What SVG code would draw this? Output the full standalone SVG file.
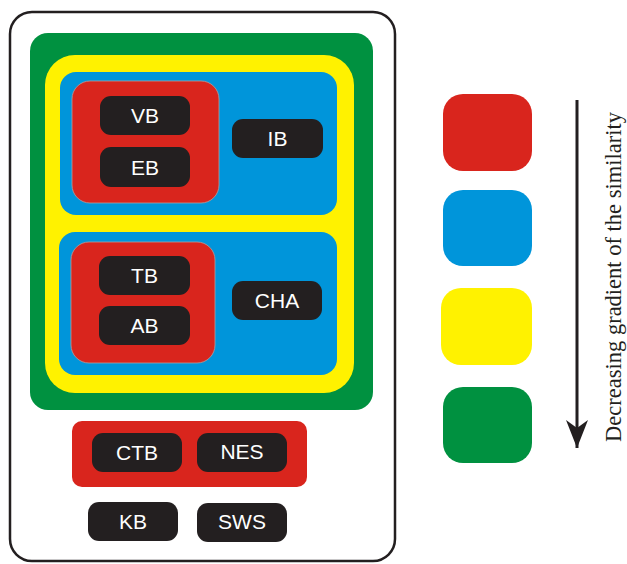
<svg xmlns="http://www.w3.org/2000/svg" width="627" height="564" viewBox="0 0 627 564">
<defs>
<style>
.red{fill:#d9251d}
.blue{fill:#0095da}
.yel{fill:#fff200}
.grn{fill:#009140}
.box{fill:#231f20}
.lbl{fill:#ffffff;font-family:"Liberation Sans",Arial,sans-serif;font-size:21px;text-anchor:middle;dominant-baseline:central}
.cap{fill:#231f20;font-family:"Liberation Serif","Times New Roman",serif;font-size:22.5px;text-anchor:middle;dominant-baseline:central}
</style>
<marker id="ah" markerWidth="28" markerHeight="22" refX="28" refY="11" orient="auto" markerUnits="userSpaceOnUse" viewBox="0 0 28 22">
<path d="M0,0 L28,11 L0,22 L8,11 Z" fill="#231f20"/>
</marker>
</defs>
<rect width="627" height="564" fill="#ffffff"/>
<g id="frame"><rect x="10" y="12" width="385" height="549" rx="22" fill="#ffffff" stroke="#231f20" stroke-width="2.5"/></g>
<g id="green-level"><rect class="grn" x="30" y="33" width="343" height="377" rx="18"/></g>
<g id="yellow-level"><rect class="yel" x="45" y="55" width="309" height="338" rx="30"/></g>
<g id="blue-top"><rect class="blue" x="60" y="72" width="277" height="143" rx="16"/></g>
<g id="red-top"><rect class="red" x="72" y="81" width="147" height="122" rx="18" stroke="#b0a0a0" stroke-width="0.8"/></g>
<g id="VB"><rect class="box" x="100" y="96" width="90" height="39" rx="11"/><text class="lbl" x="145" y="115.5">VB</text></g>
<g id="EB"><rect class="box" x="100" y="147" width="90" height="40" rx="11"/><text class="lbl" x="145" y="167">EB</text></g>
<g id="IB"><rect class="box" x="232" y="119" width="91" height="39" rx="11"/><text class="lbl" x="277.5" y="138.5">IB</text></g>
<g id="blue-bottom"><rect class="blue" x="59" y="232" width="278" height="143" rx="16"/></g>
<g id="red-bottom"><rect class="red" x="71" y="242" width="144" height="121" rx="18" stroke="#b0a0a0" stroke-width="0.8"/></g>
<g id="TB"><rect class="box" x="99" y="256" width="91" height="39" rx="11"/><text class="lbl" x="144.5" y="275.5">TB</text></g>
<g id="AB"><rect class="box" x="99" y="306" width="91" height="39" rx="11"/><text class="lbl" x="144.5" y="325.5">AB</text></g>
<g id="CHA"><rect class="box" x="232" y="281" width="90" height="39" rx="11"/><text class="lbl" x="277" y="300.5">CHA</text></g>
<g id="red-band"><rect class="red" x="72" y="421" width="235" height="66" rx="10"/></g>
<g id="CTB"><rect class="box" x="92" y="433" width="90" height="39" rx="11"/><text class="lbl" x="137" y="452.5">CTB</text></g>
<g id="NES"><rect class="box" x="197" y="433" width="90" height="39" rx="11"/><text class="lbl" x="242" y="451.5">NES</text></g>
<g id="KB"><rect class="box" x="88" y="502" width="90" height="39" rx="11"/><text class="lbl" x="133" y="521.5">KB</text></g>
<g id="SWS"><rect class="box" x="197" y="503" width="90" height="39" rx="11"/><text class="lbl" x="242" y="521.5">SWS</text></g>
<g id="legend-red"><rect class="red" x="443" y="94" width="89" height="77" rx="20"/></g>
<g id="legend-blue"><rect class="blue" x="443" y="190" width="89" height="76" rx="20"/></g>
<g id="legend-yellow"><rect class="yel" x="441" y="288" width="91" height="77" rx="20"/></g>
<g id="legend-green"><rect class="grn" x="443" y="387" width="89" height="76" rx="20"/></g>
<g id="connectors"><line x1="577" y1="100" x2="577" y2="448" stroke="#231f20" stroke-width="3" marker-end="url(#ah)"/></g>
<g id="caption"><text class="cap" transform="translate(613,277) rotate(-90)">Decreasing gradient of the similarity</text></g>
</svg>
